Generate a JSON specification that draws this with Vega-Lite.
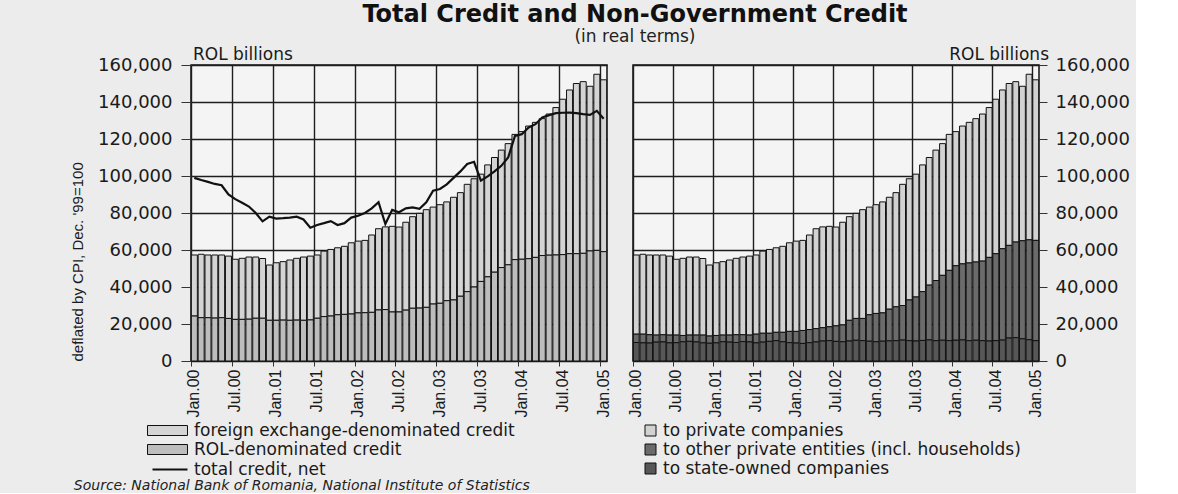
{
  "$schema": "https://vega.github.io/schema/vega-lite/v6.json",
  "background": "#ececec",
  "padding": {"left": 69, "top": 3, "right": 5, "bottom": 0},
  "title": {
    "text": "Total Credit and Non-Government Credit",
    "subtitle": "(in real terms)",
    "anchor": "middle",
    "frame": "bounds",
    "dx": 35,
    "font": "DejaVu Sans",
    "fontSize": 24,
    "fontWeight": "bold",
    "color": "#111",
    "subtitleFont": "DejaVu Sans",
    "subtitleFontSize": 17,
    "subtitleColor": "#222",
    "subtitlePadding": 2,
    "offset": 0
  },
  "datasets": {
    "credit": [
      {"m": "Jan.00", "fx": 33000, "rol": 24300, "net": 99000, "pc": 42800, "pe": 4500, "sc": 10000},
      {"m": "Feb.00", "fx": 34300, "rol": 23400, "net": 97800, "pc": 43200, "pe": 4700, "sc": 9800},
      {"m": "Mar.00", "fx": 33900, "rol": 23400, "net": 96800, "pc": 43100, "pe": 4500, "sc": 9700},
      {"m": "Apr.00", "fx": 34100, "rol": 23200, "net": 95700, "pc": 43300, "pe": 3800, "sc": 10200},
      {"m": "May.00", "fx": 33900, "rol": 23400, "net": 95000, "pc": 43100, "pe": 3900, "sc": 10300},
      {"m": "Jun.00", "fx": 33700, "rol": 23000, "net": 90000, "pc": 42700, "pe": 4200, "sc": 9800},
      {"m": "Jul.00", "fx": 32500, "rol": 22500, "net": 87500, "pc": 41000, "pe": 4100, "sc": 9900},
      {"m": "Aug.00", "fx": 33000, "rol": 22500, "net": 85500, "pc": 41700, "pe": 3400, "sc": 10400},
      {"m": "Sep.00", "fx": 33600, "rol": 22600, "net": 83500, "pc": 42200, "pe": 3400, "sc": 10600},
      {"m": "Oct.00", "fx": 33100, "rol": 23100, "net": 80000, "pc": 42200, "pe": 3700, "sc": 10300},
      {"m": "Nov.00", "fx": 32300, "rol": 23100, "net": 75500, "pc": 41400, "pe": 4200, "sc": 9800},
      {"m": "Dec.00", "fx": 29900, "rol": 22000, "net": 78000, "pc": 38400, "pe": 3900, "sc": 9600},
      {"m": "Jan.01", "fx": 31100, "rol": 22000, "net": 77000, "pc": 39300, "pe": 4000, "sc": 9800},
      {"m": "Feb.01", "fx": 31600, "rol": 22100, "net": 77200, "pc": 39700, "pe": 3600, "sc": 10400},
      {"m": "Mar.01", "fx": 32600, "rol": 22000, "net": 77500, "pc": 40600, "pe": 3800, "sc": 10200},
      {"m": "Apr.01", "fx": 33400, "rol": 22100, "net": 78000, "pc": 41300, "pe": 4200, "sc": 10000},
      {"m": "May.01", "fx": 34200, "rol": 22000, "net": 76500, "pc": 42000, "pe": 3700, "sc": 10500},
      {"m": "Jun.01", "fx": 34500, "rol": 22200, "net": 72000, "pc": 42700, "pe": 3700, "sc": 10300},
      {"m": "Jul.01", "fx": 34200, "rol": 23100, "net": 73500, "pc": 42800, "pe": 4700, "sc": 9800},
      {"m": "Aug.01", "fx": 35400, "rol": 24000, "net": 74500, "pc": 44400, "pe": 4800, "sc": 10200},
      {"m": "Sep.01", "fx": 36000, "rol": 24300, "net": 75600, "pc": 45300, "pe": 4400, "sc": 10600},
      {"m": "Oct.01", "fx": 36200, "rol": 25000, "net": 73500, "pc": 45700, "pe": 4500, "sc": 11000},
      {"m": "Nov.01", "fx": 36800, "rol": 25200, "net": 74500, "pc": 46500, "pe": 5100, "sc": 10400},
      {"m": "Dec.01", "fx": 38500, "rol": 25400, "net": 77500, "pc": 47900, "pe": 6100, "sc": 9900},
      {"m": "Jan.02", "fx": 38800, "rol": 26000, "net": 78500, "pc": 48800, "pe": 6300, "sc": 9700},
      {"m": "Feb.02", "fx": 39100, "rol": 26100, "net": 80000, "pc": 48700, "pe": 7000, "sc": 9500},
      {"m": "Mar.02", "fx": 41800, "rol": 26300, "net": 82500, "pc": 51100, "pe": 7100, "sc": 9900},
      {"m": "Apr.02", "fx": 43900, "rol": 27600, "net": 85800, "pc": 54000, "pe": 7200, "sc": 10300},
      {"m": "May.02", "fx": 44700, "rol": 27800, "net": 74000, "pc": 54500, "pe": 7200, "sc": 10800},
      {"m": "Jun.02", "fx": 46300, "rol": 26500, "net": 81700, "pc": 54300, "pe": 7500, "sc": 11000},
      {"m": "Jul.02", "fx": 45900, "rol": 26500, "net": 80400, "pc": 53400, "pe": 8400, "sc": 10600},
      {"m": "Aug.02", "fx": 47500, "rol": 27500, "net": 82500, "pc": 55500, "pe": 9100, "sc": 10400},
      {"m": "Sep.02", "fx": 49500, "rol": 28500, "net": 83000, "pc": 56000, "pe": 11200, "sc": 10800},
      {"m": "Oct.02", "fx": 51200, "rol": 28600, "net": 82300, "pc": 56800, "pe": 11800, "sc": 11200},
      {"m": "Nov.02", "fx": 52800, "rol": 29000, "net": 85800, "pc": 58800, "pe": 12000, "sc": 11000},
      {"m": "Dec.02", "fx": 52400, "rol": 30800, "net": 92000, "pc": 58200, "pe": 14300, "sc": 10700},
      {"m": "Jan.03", "fx": 53300, "rol": 31200, "net": 93000, "pc": 58800, "pe": 15300, "sc": 10400},
      {"m": "Feb.03", "fx": 53400, "rol": 32600, "net": 95500, "pc": 60000, "pe": 15300, "sc": 10700},
      {"m": "Mar.03", "fx": 55500, "rol": 33000, "net": 99000, "pc": 60500, "pe": 17100, "sc": 10900},
      {"m": "Apr.03", "fx": 56000, "rol": 35000, "net": 102500, "pc": 61700, "pe": 18300, "sc": 11000},
      {"m": "May.03", "fx": 58000, "rol": 37500, "net": 106500, "pc": 65500, "pe": 18700, "sc": 11300},
      {"m": "Jun.03", "fx": 58500, "rol": 40000, "net": 107700, "pc": 65500, "pe": 22000, "sc": 11000},
      {"m": "Jul.03", "fx": 58000, "rol": 43000, "net": 97500, "pc": 66400, "pe": 23800, "sc": 10800},
      {"m": "Aug.03", "fx": 60500, "rol": 45500, "net": 99800, "pc": 68500, "pe": 26400, "sc": 11100},
      {"m": "Sep.03", "fx": 62000, "rol": 48000, "net": 102500, "pc": 69000, "pe": 29600, "sc": 11400},
      {"m": "Oct.03", "fx": 63500, "rol": 50500, "net": 105500, "pc": 70500, "pe": 32500, "sc": 11000},
      {"m": "Nov.03", "fx": 65500, "rol": 52000, "net": 110000, "pc": 71200, "pe": 35100, "sc": 11200},
      {"m": "Dec.03", "fx": 67700, "rol": 54800, "net": 121700, "pc": 73500, "pe": 38000, "sc": 11000},
      {"m": "Jan.04", "fx": 69000, "rol": 55000, "net": 122600, "pc": 72500, "pe": 40300, "sc": 11200},
      {"m": "Feb.04", "fx": 71700, "rol": 55300, "net": 126200, "pc": 74500, "pe": 41100, "sc": 11400},
      {"m": "Mar.04", "fx": 73000, "rol": 56000, "net": 128000, "pc": 76000, "pe": 42000, "sc": 11000},
      {"m": "Apr.04", "fx": 74000, "rol": 57000, "net": 131600, "pc": 77500, "pe": 42300, "sc": 11200},
      {"m": "May.04", "fx": 76300, "rol": 57200, "net": 132900, "pc": 79500, "pe": 43000, "sc": 11000},
      {"m": "Jun.04", "fx": 79700, "rol": 57300, "net": 134000, "pc": 81000, "pe": 45200, "sc": 10800},
      {"m": "Jul.04", "fx": 84000, "rol": 57500, "net": 134200, "pc": 83500, "pe": 47000, "sc": 11000},
      {"m": "Aug.04", "fx": 88500, "rol": 58000, "net": 134300, "pc": 85800, "pe": 49400, "sc": 11300},
      {"m": "Sep.04", "fx": 92000, "rol": 58000, "net": 134000, "pc": 87500, "pe": 50100, "sc": 12400},
      {"m": "Oct.04", "fx": 92800, "rol": 58200, "net": 133400, "pc": 86700, "pe": 51700, "sc": 12600},
      {"m": "Nov.04", "fx": 89000, "rol": 59500, "net": 133000, "pc": 83500, "pe": 53000, "sc": 12000},
      {"m": "Dec.04", "fx": 95200, "rol": 59800, "net": 135200, "pc": 89500, "pe": 54000, "sc": 11500},
      {"m": "Jan.05", "fx": 92900, "rol": 59100, "net": 131000, "pc": 86800, "pe": 54200, "sc": 11000}
    ]
  },
  "vconcat": [
    {
      "title": {
        "text": "Source: National Bank of Romania, National Institute of Statistics",
        "orient": "bottom",
        "anchor": "start",
        "frame": "bounds",
        "dx": 4,
        "font": "DejaVu Sans",
        "fontStyle": "italic",
        "fontSize": 14,
        "fontWeight": "normal",
        "color": "#222",
        "offset": 0
      },
      "spacing": 15,
      "resolve": {
        "scale": {"color": "independent", "fill": "independent", "stroke": "independent", "y": "independent", "x": "independent"},
        "legend": {"color": "independent", "fill": "independent", "stroke": "independent"}
      },
      "hconcat": [
        {
          "width": 416,
          "height": 296,
          "title": {"text": "ROL billions", "anchor": "start", "frame": "group", "fontSize": 17, "fontWeight": "normal", "font": "DejaVu Sans", "color": "#1a1a1a", "offset": -8, "dx": 2},
          "data": {"name": "credit"},
          "encoding": {
            "x": {
              "field": "m", "type": "ordinal", "sort": null,
              "scale": {"paddingInner": 0.12, "paddingOuter": 0.05},
              "axis": {
                "values": ["Jan.00", "Jul.00", "Jan.01", "Jul.01", "Jan.02", "Jul.02", "Jan.03", "Jul.03", "Jan.04", "Jul.04", "Jan.05"],
                "labelAngle": 270, "bandPosition": 0, "title": null, "grid": true,
                "tickSize": 5, "labelFont": "Liberation Sans", "labelFontSize": 16, "labelPadding": 3
              }
            },
            "y": {
              "type": "quantitative",
              "scale": {"domain": [0, 160000]},
              "axis": {
                "title": "deflated by CPI, Dec. '99=100", "titleFont": "Liberation Sans", "titleFontSize": 15,
                "titleFontWeight": "normal", "titleAnchor": "start", "titlePadding": 12,
                "values": [0, 20000, 40000, 60000, 80000, 100000, 120000, 140000, 160000],
                "format": ",d", "labelFontSize": 18, "tickSize": 10, "labelPadding": 9, "grid": true
              }
            }
          },
          "layer": [
            {
              "transform": [{"fold": ["fx", "rol"]}],
              "mark": {"type": "bar", "stroke": "#111", "strokeWidth": 1},
              "encoding": {
                "y": {"field": "value", "type": "quantitative", "stack": "zero"},
                "fill": {
                  "field": "key", "type": "nominal",
                  "scale": {"domain": ["fx", "rol"], "range": ["#d4d4d4", "#bdbdbd"]},
                  "legend": {
                    "orient": "none", "legendX": -32, "legendY": 357, "direction": "vertical", "title": null,
                    "labelExpr": "datum.label === 'fx' ? 'foreign exchange-denominated credit' : 'ROL-denominated credit'",
                    "symbolType": "M-4,-1H4V1H-4Z", "symbolSize": 100,
                    "symbolStrokeColor": "#111", "symbolStrokeWidth": 1, "symbolOpacity": 1,
                    "labelFontSize": 17, "labelFont": "DejaVu Sans", "labelColor": "#1a1a1a", "labelLimit": 700,
                    "labelOffset": 18, "rowPadding": 1, "padding": 0
                  }
                },
                "order": {"field": "key", "sort": "descending"}
              }
            },
            {
              "mark": {"type": "line", "strokeWidth": 2.2},
              "encoding": {
                "y": {"field": "net", "type": "quantitative"},
                "stroke": {
                  "datum": "net",
                  "scale": {"domain": ["net"], "range": ["#111111"]},
                  "legend": {
                    "orient": "none", "legendX": -29.5, "legendY": 396, "title": null,
                    "labelExpr": "'total credit, net'",
                    "symbolType": "M-3.5,0H3.5", "symbolSize": 100, "symbolStrokeWidth": 2,
                    "labelFontSize": 17, "labelFont": "DejaVu Sans", "labelColor": "#1a1a1a", "labelLimit": 700,
                    "labelOffset": 15.5, "padding": 0
                  }
                }
              }
            }
          ]
        },
        {
          "width": 406,
          "height": 296,
          "title": {"text": "ROL billions", "anchor": "end", "frame": "group", "fontSize": 17, "fontWeight": "normal", "font": "DejaVu Sans", "color": "#1a1a1a", "offset": -8, "dx": 10},
          "data": {"name": "credit"},
          "transform": [{"fold": ["pc", "pe", "sc"]}],
          "mark": {"type": "bar", "stroke": "#111", "strokeWidth": 1},
          "encoding": {
            "x": {
              "field": "m", "type": "ordinal", "sort": null,
              "scale": {"paddingInner": 0.12, "paddingOuter": 0.05},
              "axis": {
                "values": ["Jan.00", "Jul.00", "Jan.01", "Jul.01", "Jan.02", "Jul.02", "Jan.03", "Jul.03", "Jan.04", "Jul.04", "Jan.05"],
                "labelAngle": 270, "bandPosition": 0, "title": null, "grid": true,
                "tickSize": 5, "labelFont": "Liberation Sans", "labelFontSize": 16, "labelPadding": 3
              }
            },
            "y": {
              "field": "value", "type": "quantitative", "stack": "zero",
              "scale": {"domain": [0, 160000]},
              "axis": {
                "orient": "right", "title": null,
                "values": [0, 20000, 40000, 60000, 80000, 100000, 120000, 140000, 160000],
                "format": ",d", "labelFontSize": 18, "tickSize": 8, "labelPadding": 8, "grid": true
              }
            },
            "color": {
              "field": "key", "type": "nominal",
              "scale": {"domain": ["pc", "pe", "sc"], "range": ["#d2d2d2", "#6b6b6b", "#575757"]},
              "legend": {
                "orient": "none", "legendX": 9, "legendY": 357, "direction": "vertical", "title": null,
                "labelExpr": "datum.label === 'pc' ? 'to private companies' : datum.label === 'pe' ? 'to other private entities (incl. households)' : 'to state-owned companies'",
                "symbolType": "square", "symbolSize": 121,
                "symbolStrokeColor": "#111", "symbolStrokeWidth": 1, "symbolOpacity": 1,
                "labelFontSize": 17, "labelFont": "DejaVu Sans", "labelColor": "#1a1a1a", "labelLimit": 700,
                "labelOffset": 4, "rowPadding": 1, "padding": 0
              }
            },
            "order": {"field": "key", "sort": "descending"}
          }
        }
      ]
    }
  ],
  "config": {
    "font": "DejaVu Sans",
    "view": {"stroke": "#111", "strokeWidth": 1.5, "fill": "#f4f4f4"},
    "axis": {
      "gridColor": "#1e1e1e", "gridWidth": 1.4, "gridOpacity": 1, "domain": false,
      "tickColor": "#333", "labelColor": "#1a1a1a", "titleColor": "#1a1a1a", "labelFont": "DejaVu Sans"
    }
  }
}
